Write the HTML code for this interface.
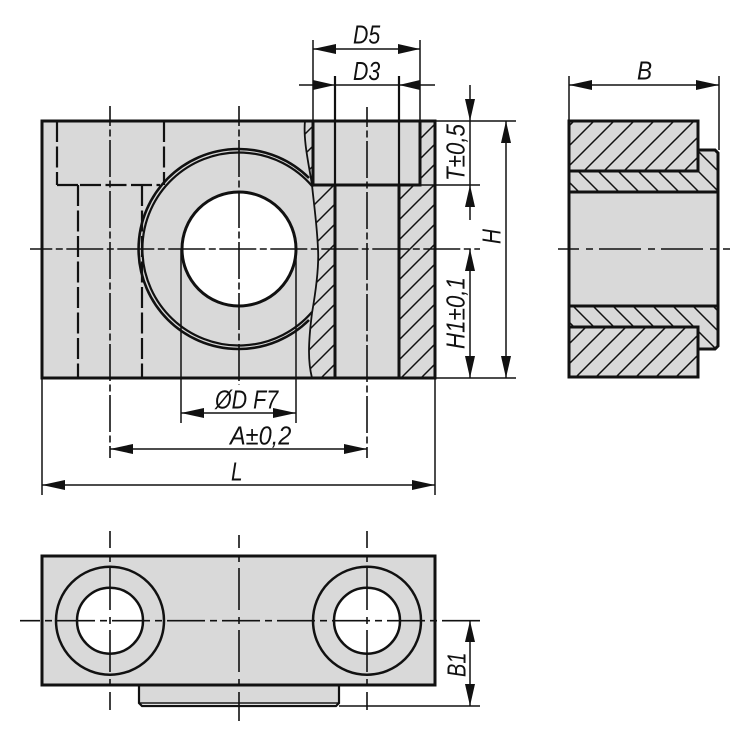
<!DOCTYPE html>
<html>
<head>
<meta charset="utf-8">
<style>
html,body{margin:0;padding:0;background:#fff;width:750px;height:740px;overflow:hidden}
svg{display:block}
text{font-family:"Liberation Sans",sans-serif;font-style:italic;font-size:26px;fill:#111}
.k{stroke:#111;fill:none;stroke-width:3}
.m{stroke:#111;fill:none;stroke-width:2.2}
.t{stroke:#111;fill:none;stroke-width:1.5}
.d{stroke:#111;fill:none;stroke-width:2.2;stroke-dasharray:21 4.5}
.c1{stroke:#111;fill:none;stroke-width:1.6;stroke-dasharray:37 3.5 7 3.5}
.c2{stroke:#111;fill:none;stroke-width:1.6;stroke-dasharray:42 7 7 6}
.c3{stroke:#111;fill:none;stroke-width:1.6;stroke-dasharray:38 5 7 5}
.a{fill:#111;stroke:none}
</style>
</head>
<body>
<svg width="750" height="740" viewBox="0 0 750 740" xmlns="http://www.w3.org/2000/svg">
<defs>
<pattern id="r19" width="20" height="20" patternUnits="userSpaceOnUse" patternTransform="translate(19 0)"><path d="M0 20L20 0M-2 2L2 -2M18 22L22 18" stroke="#111" stroke-width="1.5" fill="none"/></pattern>
<pattern id="r15" width="20" height="20" patternUnits="userSpaceOnUse" patternTransform="translate(15 0)"><path d="M0 20L20 0M-2 2L2 -2M18 22L22 18" stroke="#111" stroke-width="1.5" fill="none"/></pattern>
<pattern id="r13" width="20" height="20" patternUnits="userSpaceOnUse" patternTransform="translate(13 0)"><path d="M0 20L20 0M-2 2L2 -2M18 22L22 18" stroke="#111" stroke-width="1.5" fill="none"/></pattern>
<pattern id="f7" width="20" height="20" patternUnits="userSpaceOnUse" patternTransform="translate(7 0)"><path d="M0 0L20 20M-2 18L2 22M18 -2L22 2" stroke="#111" stroke-width="1.5" fill="none"/></pattern>
</defs>

<!-- FRONT VIEW -->
<rect x="42" y="121" width="393" height="257" fill="#d9d9d9"/>
<circle cx="239" cy="249" r="57" fill="#fff"/>
<!-- hatches -->
<path d="M305 121L313 121L313 185L335 185L335 378L312 378C308 362 308 345 312 313C316 290 319 265 318 249C317 225 314 205 312 185C309 165 303 140 305 121Z" fill="url(#r19)"/>
<path d="M420 121H435V378H399V185H420Z" fill="url(#r19)"/>
<!-- hidden lines -->
<path class="d" d="M57 121V185"/>
<path class="d" d="M164 121V185"/>
<path class="m" d="M57 185H78"/>
<path class="d" d="M78 185H160" stroke-dashoffset="-2"/>
<path class="d" d="M78 185V378"/>
<path class="d" d="M142 185V378"/>
<!-- rings -->
<path class="m" d="M309 178A100 100 0 1 0 309 320" style="stroke-width:2.6"/>
<path class="m" d="M312 186A96.5 96.5 0 1 0 312 312" style="stroke-width:2.2"/>
<circle class="k" cx="239" cy="249" r="57"/>
<!-- break curve -->
<path class="m" d="M305 121C303 140 309 165 312 185C314 205 317 225 318 249C319 265 316 290 312 313C308 345 308 362 312 378" style="stroke-width:1.8"/>
<!-- bores -->
<path class="k" d="M313 121V185H420V121"/>
<path class="m" d="M335 76V378M399 76V378"/>
<path class="k" d="M399 185V378"/>
<path class="k" d="M335 185V378"/>
<path class="t" d="M181 249V423M296 249V423"/>
<rect class="k" x="42" y="121" width="393" height="257"/>
<!-- centre lines -->
<path class="c1" d="M30 249H480" stroke-dashoffset="14.7"/>
<path class="c1" d="M110 106V458" stroke-dashoffset="17"/>
<path class="c1" d="M239 106V385" stroke-dashoffset="17"/>
<path class="c1" d="M367 107V458" stroke-dashoffset="17"/>

<!-- dimensions top -->
<path class="t" d="M313 40V121M420 40V121"/>
<path class="t" d="M313 49H420"/>
<polygon class="a" points="313,49 336,44 336,54"/>
<polygon class="a" points="420,49 398,44 398,54"/>
<path class="t" d="M299 85H435"/>
<polygon class="a" points="335,85 313,80 313,90"/>
<polygon class="a" points="399,85 420,80 420,90"/>
<text transform="translate(353 43.5) scale(.82 1)">D5</text>
<text transform="translate(353 80) scale(.82 1)">D3</text>

<!-- right dims -->
<path class="t" d="M435 121H516M420 185H480M435 378H516"/>
<path class="t" d="M470 85V220"/>
<polygon class="a" points="470,121 465,99 475,99"/>
<polygon class="a" points="470,185 465,207 475,207"/>
<path class="t" d="M470 249V378"/>
<polygon class="a" points="470,249 465,271 475,271"/>
<polygon class="a" points="470,378 465,356 475,356"/>
<path class="t" d="M506 121V378"/>
<polygon class="a" points="506,121 501,143 511,143"/>
<polygon class="a" points="506,378 501,356 511,356"/>
<text transform="translate(464.5 181) rotate(-90) scale(.86 1)">T±0,5</text>
<text transform="translate(500.5 244) rotate(-90) scale(.8 1)">H</text>
<text transform="translate(464.5 349) rotate(-90) scale(.86 1)">H1±0,1</text>

<!-- bottom dims -->
<path class="t" d="M181 413H296M110 449H367M42 485H435"/>
<path class="t" d="M42 378V495M435 378V495"/>
<polygon class="a" points="181,413 204,408 204,418"/>
<polygon class="a" points="296,413 273,408 273,418"/>
<polygon class="a" points="110,449 133,444 133,454"/>
<polygon class="a" points="367,449 344,444 344,454"/>
<polygon class="a" points="42,485 65,480 65,490"/>
<polygon class="a" points="435,485 412,480 412,490"/>
<text transform="translate(215 408.5) scale(.825 1)">ØD F7</text>
<text transform="translate(230 444.5) scale(.905 1)">A±0,2</text>
<text transform="translate(231 480.5) scale(.8 1)">L</text>

<!-- SIDE VIEW -->
<rect x="569" y="192" width="149" height="114" fill="#d9d9d9"/>
<rect x="569" y="121" width="129" height="50" fill="#d9d9d9"/>
<rect x="569" y="121" width="129" height="50" fill="url(#r15)"/>
<path d="M569 171H698V150H715L718 153V192H569Z" fill="#d9d9d9"/>
<path d="M569 171H698V150H715L718 153V192H569Z" fill="url(#f7)"/>
<rect x="569" y="327" width="129" height="50" fill="#d9d9d9"/>
<rect x="569" y="327" width="129" height="50" fill="url(#r13)"/>
<path d="M569 306H718V346L715 349H698V327H569Z" fill="#d9d9d9"/>
<path d="M569 306H718V346L715 349H698V327H569Z" fill="url(#f7)"/>
<path class="k" d="M569 121H698V171H569Z"/>
<path class="k" d="M569 327H698V377H569Z"/>
<path class="k" d="M569 171V327M569 192H718M569 306H718"/>
<path class="k" d="M698 150H715L718 153V346L715 349H698"/>
<path class="c2" d="M558 249H730" stroke-dasharray="42 3.5 8 4.5" stroke-dashoffset="21"/>
<path class="t" d="M569 76V121M719 76V150M569 85H719"/>
<polygon class="a" points="569,85 592,80 592,90"/>
<polygon class="a" points="719,85 696,80 696,90"/>
<text transform="translate(637 79.5) scale(.87 1)">B</text>

<!-- BOTTOM VIEW -->
<rect x="42" y="556" width="393" height="129" fill="#d9d9d9"/>
<path d="M139 685H339V702H139Z" fill="#d9d9d9"/>
<circle cx="110" cy="620.7" r="33" fill="#fff"/>
<circle cx="367" cy="620.7" r="33" fill="#fff"/>
<circle class="m" cx="110" cy="620.7" r="54" style="stroke-width:2.5"/>
<circle class="m" cx="110" cy="620.7" r="33" style="stroke-width:2.5"/>
<circle class="m" cx="367" cy="620.7" r="54" style="stroke-width:2.5"/>
<circle class="m" cx="367" cy="620.7" r="33" style="stroke-width:2.5"/>
<rect class="k" x="42" y="556" width="393" height="129"/>
<path class="m" d="M139 685V703L142 706H336L339 703V685"/>
<path class="t" d="M139 703H339"/>
<path class="c3" d="M20 620.7H480" stroke-dashoffset="18"/>
<path class="c2" d="M110 531V710" stroke-dashoffset="25"/>
<path class="c2" d="M239 535V721" stroke-dashoffset="29"/>
<path class="c2" d="M367 531V710" stroke-dashoffset="25"/>
<path class="t" d="M339 706H480"/>
<path class="t" d="M470 620.7V706"/>
<polygon class="a" points="470,620.7 465,642 475,642"/>
<polygon class="a" points="470,706 465,684 475,684"/>
<text transform="translate(465.5 677) rotate(-90) scale(.77 1)">B1</text>
</svg>
</body>
</html>
